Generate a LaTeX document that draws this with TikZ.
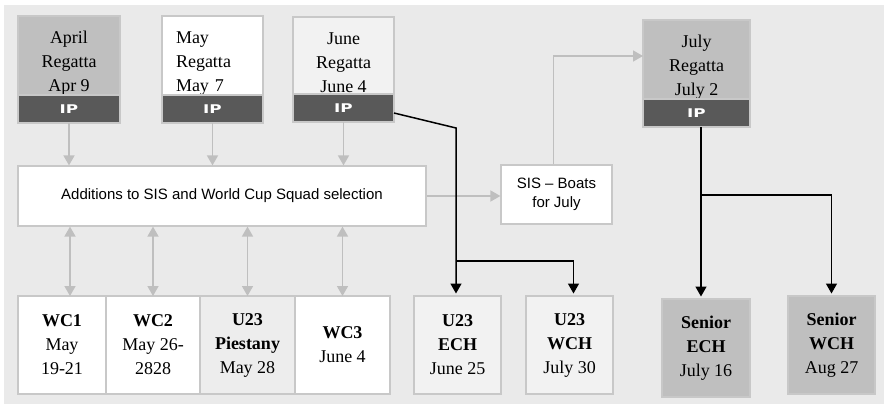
\documentclass[tikz,border=0pt]{standalone}
\usepackage{graphicx}
\usepackage{fontspec}
\setmainfont{Liberation Serif}
\setsansfont{Liberation Sans}
\newfontfamily\ipfont{DejaVu Sans}
\usetikzlibrary{arrows.meta,positioning}

\definecolor{bggray}{HTML}{EAEAEA}
\definecolor{edgegray}{HTML}{C8C8C8}
\definecolor{midgray}{HTML}{BFBFBF}
\definecolor{bandgray}{HTML}{595959}
\definecolor{palegray}{HTML}{F2F2F2}
\definecolor{pie}{HTML}{EDEDED}
\newcommand{\lift}{\rule{0pt}{27pt}}
\newcommand{\ip}{\scalebox{1.4}[1]{IP}}

\begin{document}
\begin{tikzpicture}[x=1pt, y=-1pt,
      box/.style = {draw=edgegray, line width=1.2pt, outer sep=0pt, inner sep=0pt,
        align=center, font=\fontsize{18}{24}\selectfont},
      regatta/.style = {box, minimum height=77pt},
      band/.style = {draw=edgegray, line width=1.2pt, outer sep=0pt, inner sep=0pt,
        fill=bandgray, minimum height=28pt, text=white,
        font=\ipfont\bfseries\fontsize{12}{12}\selectfont},
      event/.style = {box, minimum height=98pt},
      sel/.style = {draw=edgegray, line width=1.2pt, fill=white, align=center,
        font=\sffamily\fontsize{15}{19}\selectfont},
      feed/.style = {draw=midgray, line width=1.6pt, -{Triangle[width=11pt,length=10pt]}},
      link/.style = {feed, {Triangle[width=11pt,length=10pt]}-{Triangle[width=11pt,length=10pt]}},
      go/.style = {draw=black, line width=1.5pt, shorten >=2.5pt, -{Triangle[width=11pt,length=10pt]}}]
  \useasboundingbox (0,0) rectangle (884,404);
  \fill[bggray] (4,5) rectangle (884,404);

  % regattas
  \node[regatta, fill=midgray, minimum width=102pt] (apr) at (69,55.5) {\lift April\\Regatta\\Apr 9};
  \node[regatta, fill=white, minimum width=101pt, text width=73pt, align=left] (may) at (212.5,55.5)
    {\lift May\\Regatta\\May 7};
  \node[regatta, fill=palegray, minimum width=101pt] (jun) at (343.5,55.5) {\lift June\\Regatta\\June 4};
  \node[regatta, fill=midgray, minimum width=107pt, minimum height=79pt] (jul) at (696.5,59.5)
    {\lift July\\Regatta\\July 2};
  \node[band, minimum width=102pt, below=0pt of apr] (aprb) {\ip};
  \node[band, minimum width=101pt, below=0pt of may] (mayb) {\ip};
  \node[band, minimum width=101pt, below=0pt of jun] (junb) {\ip};
  \node[band, minimum width=107pt, below=0pt of jul] (julb) {\ip};

  % selection
  \node[sel, minimum width=408pt, minimum height=60pt] (add) at (222,196)
    {Additions to SIS and World Cup Squad selection};
  \node[sel, minimum width=111pt, minimum height=59pt] (sis) at (556.5,194.5) {SIS -- Boats\\for July};

  % events
  \node[event, fill=white, minimum width=88pt] (wc1) at (62,345) {\textbf{WC1}\\May\\19-21};
  \node[event, fill=white, minimum width=94pt, right=0pt of wc1] (wc2) {\textbf{WC2}\\May 26-\\2828};
  \node[event, fill=pie, minimum width=95pt, right=0pt of wc2] (pst) {\textbf{U23}\\\textbf{Piestany}\\May 28};
  \node[event, fill=white, minimum width=95pt, right=0pt of pst] (wc3) {\textbf{WC3}\\June 4};
  \node[event, fill=palegray, minimum width=87pt] (uech) at (457.5,345) {\textbf{U23}\\\textbf{ECH}\\June 25};
  \node[event, fill=palegray, minimum width=87pt, right=25pt of uech] (uwch) {\textbf{U23}\\\textbf{WCH}\\July 30};
  \node[event, fill=midgray, minimum width=88pt] (sech) at (706,348) {\textbf{Senior}\\\textbf{ECH}\\July 16};
  \node[event, fill=midgray, minimum width=87pt] (swch) at (831.5,345) {\textbf{Senior}\\\textbf{WCH}\\Aug 27};

  % grey arrows
  \foreach \r in {aprb,mayb,junb}
    \draw[feed] (\r.south) -- (add.north -| \r.south);
  \coordinate (w1) at ([xshift=8pt]wc1.north);
  \draw[link] (w1) -- (add.south -| w1);
  \foreach \e in {wc2,pst,wc3}
    \draw[link] (\e.north) -- (add.south -| \e.north);
  \draw[feed] (add.east) -- (add.east -| sis.west);
  \draw[feed] ([xshift=-3pt]sis.north) |- ([yshift=3.5pt]jul.west);

  % black arrows
  \coordinate (k1) at (456,128);
  \coordinate (k2) at (456,261);
  \coordinate (k3) at (701,195);
  \draw[go] ([yshift=-5pt]junb.east) -- (k1) -- (k1 |- uech.north);
  \draw[go] (k2) -| ([xshift=4pt]uwch.north);
  \draw[go] (k3 |- julb.south) -- (k3 |- sech.north);
  \draw[go] (k3) -| (swch.north);
\end{tikzpicture}
\end{document}
